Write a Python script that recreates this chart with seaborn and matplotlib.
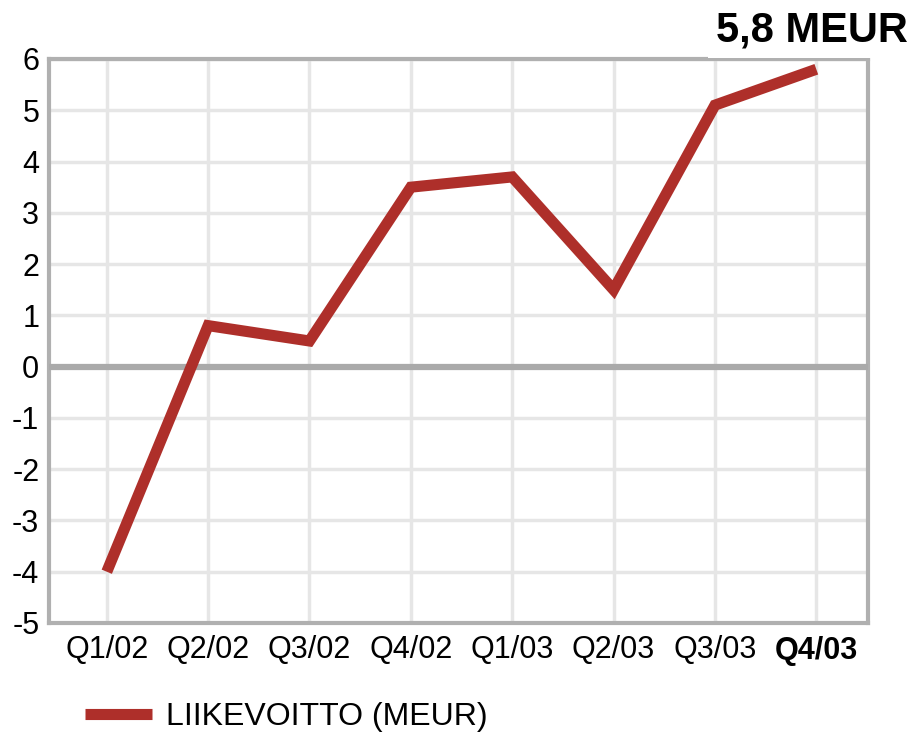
import matplotlib
matplotlib.use("Agg")
import matplotlib.pyplot as plt
import seaborn as sns
import pandas as pd

quarters = ["Q1/02", "Q2/02", "Q3/02", "Q4/02", "Q1/03", "Q2/03", "Q3/03", "Q4/03"]
liikevoitto = [-4.0, 0.8, 0.5, 3.5, 3.7, 1.5, 5.1, 5.8]
y_ticks = [6, 5, 4, 3, 2, 1, 0, -1, -2, -3, -4, -5]
series_name = "LIIKEVOITTO (MEUR)"
headline = "5,8 MEUR"

sns.set_style("white")
plt.rcParams['font.family'] = ['Liberation Sans', 'DejaVu Sans']

df = pd.DataFrame({"x": list(range(len(quarters))), "y": liikevoitto})

fig = plt.figure(figsize=(9.14, 7.32), dpi=100)
ax = fig.add_axes([49/914, 1 - 623/732, (868 - 49)/914, (623 - 59)/732])

line_color = "#ae2f2a"
sns.lineplot(data=df, x="x", y="y", ax=ax, color=line_color, linewidth=8,
             solid_capstyle="butt", solid_joinstyle="miter", label=series_name,
             legend=False, zorder=5)

ax.set_xlim(-0.57, 7.51)
ax.set_ylim(-5, 6)
ax.set_xticks(range(len(quarters)))
ax.set_xticklabels(quarters)
ax.set_yticks(y_ticks)
ax.set_yticklabels([str(v) for v in y_ticks])
ax.set_xlabel("")
ax.set_ylabel("")

ax.grid(True, color="#e6e6e6", linewidth=2.5, zorder=0)
ax.set_axisbelow(True)
ax.axhline(0, color="#aaaaaa", linewidth=4.5, zorder=3)

for s in ax.spines.values():
    s.set_color("#b0b0b0")
    s.set_linewidth(3)
    s.set_visible(True)

ax.tick_params(axis="both", length=0, labelsize=22, colors="#000000")
ax.tick_params(axis="x", pad=9)
ax.tick_params(axis="y", pad=7)
for lab in ax.get_xticklabels():
    if lab.get_text() == "Q4/03":
        lab.set_fontweight("bold")

fig.text(812/914, 1 - 30/732, headline, fontsize=30, fontweight="bold",
         ha="center", va="center", color="#000000",
         bbox=dict(facecolor="white", edgecolor="none", pad=6), zorder=10)

handles, labels = ax.get_legend_handles_labels()
leg = fig.legend(handles, labels, loc="center left", bbox_to_anchor=(85/914, 1 - 717/732),
                 frameon=False, fontsize=23, handlelength=2.1, handletextpad=0.45,
                 borderpad=0, borderaxespad=0)
for t in leg.get_texts():
    t.set_color("#000000")

fig.savefig("out.png", dpi=100)
